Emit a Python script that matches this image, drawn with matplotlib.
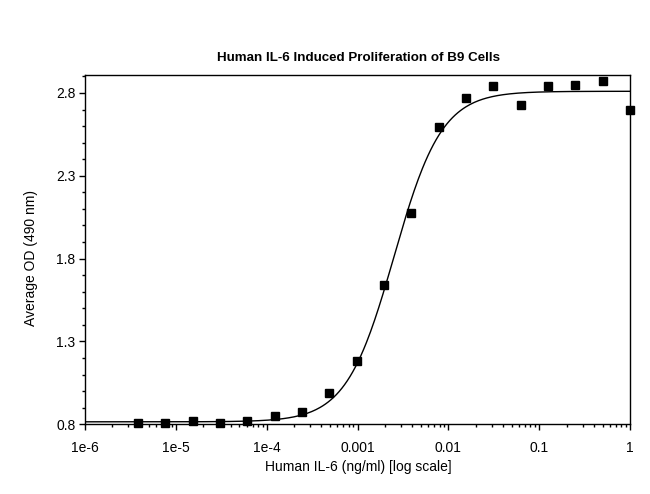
import numpy as np
import matplotlib
matplotlib.use("Agg")
import matplotlib.pyplot as plt
from matplotlib.ticker import FixedLocator, MultipleLocator, LogLocator, NullFormatter

plt.rcParams["font.family"] = ["Liberation Sans Narrow", "Liberation Sans", "DejaVu Sans"]

# donnees : serie de dilutions 1:2 a partir de 1 ng/ml
conc = [3.81e-6, 7.63e-6, 1.53e-5, 3.05e-5, 6.10e-5, 1.22e-4, 2.44e-4, 4.88e-4,
        9.77e-4, 1.95e-3, 3.91e-3, 7.81e-3, 1.56e-2, 3.13e-2, 6.25e-2, 0.125,
        0.25, 0.5, 1.0]
od = [0.806, 0.806, 0.820, 0.808, 0.820, 0.850, 0.874, 0.990,
      1.180, 1.643, 2.077, 2.595, 2.770, 2.840, 2.725, 2.840,
      2.850, 2.874, 2.697]

# parametres du fit 4PL
fit_bottom = 0.815
fit_top = 2.81
fit_ec50 = 0.00252
fit_hill = 1.65

y_ticks = [0.8, 1.3, 1.8, 2.3, 2.8]
x_ticks = [1e-6, 1e-5, 1e-4, 1e-3, 1e-2, 1e-1, 1]
x_labels = ["1e-6", "1e-5", "1e-4", "0.001", "0.01", "0.1", "1"]

xs = np.logspace(-6, 0, 400)
ys = fit_bottom + (fit_top - fit_bottom) / (1 + (fit_ec50 / xs) ** fit_hill)

fig = plt.figure(figsize=(6.5, 4.94), dpi=100)
ax = fig.add_axes([0.1308, 0.1411, 0.8385, 0.7063])

ax.plot(xs, ys, color="black", lw=1.0)
ax.plot(conc, od, "s", color="black", ms=5.8, clip_on=False)

ax.set_xscale("log")
ax.set_xlim(1e-6, 1)
ax.set_ylim(0.8, 2.906)
ax.xaxis.set_major_locator(FixedLocator(x_ticks))
ax.set_xticklabels(x_labels)
ax.xaxis.set_minor_locator(LogLocator(base=10, subs=np.arange(2, 10)))
ax.xaxis.set_minor_formatter(NullFormatter())
ax.yaxis.set_major_locator(FixedLocator(y_ticks))
ax.set_yticklabels([str(v) for v in y_ticks])
ax.yaxis.set_minor_locator(MultipleLocator(0.1))

ax.tick_params(which="major", direction="out", length=4, width=1, labelsize=10, colors="black", pad=3)
ax.tick_params(which="minor", direction="out", length=2, width=1)
ax.tick_params(axis="x", which="major", pad=8)
for s in ax.spines.values():
    s.set_linewidth(1.0)

fig.text(0.552, 0.883, "Human IL-6 Induced Proliferation of B9 Cells",
         ha="center", va="center", fontsize=9.6, fontweight="bold")
fig.text(0.552, 0.055, "Human IL-6 (ng/ml) [log scale]", ha="center", va="center", fontsize=10)
fig.text(0.048, 0.478, "Average OD (490 nm)", ha="center", va="center", fontsize=10, rotation=90)

fig.savefig("out.png", dpi=100)
